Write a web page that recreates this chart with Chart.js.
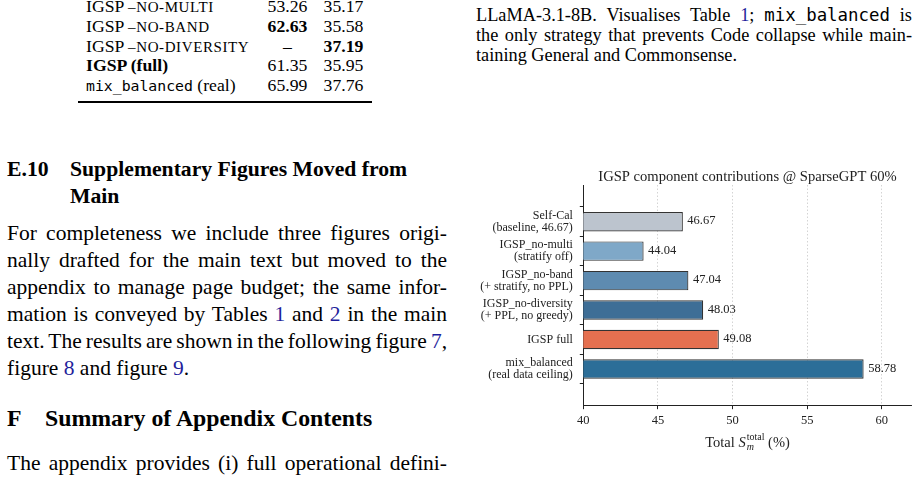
<!DOCTYPE html>
<html>
<head>
<meta charset="utf-8">
<script src="https://cdn.jsdelivr.net/npm/chart.js@4.4.1/dist/chart.umd.min.js"></script>
<style>
html,body{margin:0;padding:0;background:#fff;}
body{position:relative;width:923px;height:477px;overflow:hidden;font-family:"Liberation Serif","Times New Roman",serif;color:#000;}
.ln{position:absolute;white-space:nowrap;line-height:1.2;}
.bm{display:inline-block;width:0;height:0;vertical-align:baseline;}
.body{font-size:21.5px;}
.h2{font-size:21.7px;font-weight:bold;}
.h1{font-size:23.8px;font-weight:bold;}
.cap{font-size:18.3px;}
.tab{font-size:17.7px;}
.sc{font-size:15px;letter-spacing:0.6px;}
.tt{font-family:"DejaVu Sans Mono",monospace;}
.cap .tt{font-size:17.4px;}
.tab .tt{font-size:14.8px;}
.lk{color:#1f1f9c;}
#rule{position:absolute;left:78px;top:100.8px;width:294px;height:1.8px;background:#000;}
#chartBox{position:absolute;left:460px;top:160px;width:463px;height:300px;}
</style>
</head>
<body>
<div id="rule"></div>
<div id="chartBox"><canvas id="c" width="463" height="300"></canvas></div>
<script>
// ---------------- chart data ----------------
const chartTitle = "IGSP component contributions @ SparseGPT 60%";
const categories = [
  ["Self-Cal", "(baseline, 46.67)"],
  ["IGSP_no-multi", "(stratify off)"],
  ["IGSP_no-band", "(+ stratify, no PPL)"],
  ["IGSP_no-diversity", "(+ PPL, no greedy)"],
  ["IGSP full"],
  ["mix_balanced", "(real data ceiling)"]
];
const totals = [46.67, 44.04, 47.04, 48.03, 49.08, 58.78];
const xTicks = [40, 45, 50, 55, 60];
const barColors = ["#bcc4ce", "#7fa8c8", "#5e8bb0", "#3e6e96", "#e57050", "#2c6e98"];

// ---------------- table data ----------------
const tableLabels = [
  'IGSP <span class="sc">–NO-MULTI</span>',
  'IGSP <span class="sc">–NO-BAND</span>',
  'IGSP <span class="sc">–NO-DIVERSITY</span>',
  '<b>IGSP (full)</b>',
  '<span class="tt">mix_balanced</span> (real)'
];
const tableCol1 = ["53.26", "62.63", "–", "61.35", "65.99"];
const tableCol2 = ["35.17", "35.58", "37.19", "35.95", "37.76"];
const boldCol1 = [1];
const boldCol2 = [2];

// ---------------- page text ----------------
const captionLines = [
  'LLaMA-3.1-8B. Visualises Table <span class="lk">1</span>; <span class="tt">mix_balanced</span> is',
  'the only strategy that prevents Code collapse while main-',
  'taining General and Commonsense.'
];
const bodyLines = [
  'For completeness we include three figures origi-',
  'nally drafted for the main text but moved to the',
  'appendix to manage page budget; the same infor-',
  'mation is conveyed by Tables <span class="lk">1</span> and <span class="lk">2</span> in the main',
  'text. The results are shown in the following figure <span class="lk">7</span>,',
  'figure <span class="lk">8</span> and figure <span class="lk">9</span>.'
];
const lastLine = 'The appendix provides (i) full operational defini-';

// ---------------- layout helper ----------------
function addLine(html, x, baseline, cls, opts) {
  opts = opts || {};
  const d = document.createElement('div');
  d.className = 'ln ' + cls;
  d.innerHTML = '<span class="c">' + html + '</span><span class="bm"></span>';
  d.style.left = x + 'px';
  d.style.top = '0px';
  document.body.appendChild(d);
  const c = d.querySelector('.c');
  if (opts.justify) {
    const nat = c.getBoundingClientRect().width;
    const n = (c.textContent.match(/ /g) || []).length;
    if (n) d.style.wordSpacing = ((opts.justify - nat) / n) + 'px';
  }
  if (opts.center !== undefined) {
    const w = c.getBoundingClientRect().width;
    d.style.left = (opts.center - w / 2) + 'px';
  }
  const bm = d.querySelector('.bm');
  const off = bm.getBoundingClientRect().top - d.getBoundingClientRect().top;
  d.style.top = (baseline - off) + 'px';
  return d;
}

// table
tableLabels.forEach((lab, i) => {
  const b = 12 + i * 19.8;
  addLine(lab, 86, b, 'tab');
  const v1 = boldCol1.includes(i) ? '<b>' + tableCol1[i] + '</b>' : tableCol1[i];
  const v2 = boldCol2.includes(i) ? '<b>' + tableCol2[i] + '</b>' : tableCol2[i];
  addLine(v1, 0, b, 'tab', {center: 287.5});
  addLine(v2, 0, b, 'tab', {center: 343.5});
});

// caption (right column)
captionLines.forEach((t, i) => {
  addLine(t, 476, 20.7 + i * 20.2, 'cap', i < 2 ? {justify: 436} : {});
});

// headings and body (left column)
addLine('E.10', 7, 176, 'h2');
addLine('Supplementary Figures Moved from', 70, 176, 'h2');
addLine('Main', 70, 202.7, 'h2');
bodyLines.forEach((t, i) => {
  addLine(t, 7, 240 + i * 27, 'body', i < 5 ? {justify: 440} : {});
});
addLine('F', 7, 426, 'h1');
addLine('Summary of Appendix Contents', 45, 426, 'h1');
addLine(lastLine, 7, 470, 'body', {justify: 440});

// ---------------- chart ----------------
const serif = '"Liberation Serif", "Times New Roman", serif';

const valueLabelPlugin = {
  id: 'valueLabels',
  afterDatasetsDraw(chart) {
    const ctx = chart.ctx;
    const meta = chart.getDatasetMeta(0);
    ctx.save();
    ctx.font = '12.5px ' + serif;
    ctx.fillStyle = '#222';
    ctx.textAlign = 'left';
    ctx.textBaseline = 'middle';
    meta.data.forEach((el, i) => {
      ctx.fillText(totals[i].toFixed(2), el.x + 4.5, el.y - 0.5);
    });
    ctx.restore();
  }
};

const axisTextPlugin = {
  id: 'axisText',
  afterDraw(chart) {
    const ctx = chart.ctx;
    const a = chart.chartArea;
    const cx = (a.left + a.right) / 2;
    ctx.save();
    ctx.fillStyle = '#222';
    ctx.textBaseline = 'alphabetic';
    ctx.textAlign = 'center';
    ctx.font = '14.6px ' + serif;
    ctx.fillText(chartTitle, cx, a.top - 4);

    // x label: Total S_m^total (%)
    const y = a.bottom + 41;
    const big = '14.5px ' + serif, bigIt = 'italic 14.5px ' + serif;
    const sm = '10px ' + serif, smIt = 'italic 10px ' + serif;
    ctx.textAlign = 'left';
    ctx.font = big; const w1 = ctx.measureText('Total ').width;
    ctx.font = bigIt; const wS = ctx.measureText('S').width;
    ctx.font = sm; const wSup = ctx.measureText('total').width;
    ctx.font = smIt; const wSub = ctx.measureText('m').width;
    ctx.font = big; const w3 = ctx.measureText(' (%)').width;
    const wBlock = Math.max(wSup, wSub);
    const total = w1 + wS + 1 + wBlock + w3;
    let x = cx - total / 2;
    ctx.font = big; ctx.fillText('Total ', x, y); x += w1;
    ctx.font = bigIt; ctx.fillText('S', x, y); x += wS + 1;
    ctx.font = sm; ctx.fillText('total', x, y - 6.5);
    ctx.font = smIt; ctx.fillText('m', x, y + 3.5);
    x += wBlock;
    ctx.font = big; ctx.fillText(' (%)', x, y);
    ctx.restore();
  }
};

new Chart(document.getElementById('c'), {
  type: 'bar',
  data: {
    datasets: [{
      data: totals.map((v, i) => ({x: v, y: i})),
      backgroundColor: barColors,
      borderColor: '#333',
      borderWidth: 1.2,
      borderSkipped: false,
      barPercentage: 0.825,
      categoryPercentage: 0.8
    }]
  },
  options: {
    indexAxis: 'y',
    responsive: false,
    animation: false,
    events: [],
    layout: {padding: {top: 25, right: 11.3, left: 0, bottom: 0}},
    plugins: {legend: {display: false}, tooltip: {enabled: false}, title: {display: false}},
    scales: {
      x: {
        type: 'linear',
        position: 'bottom',
        min: 40,
        max: 62,
        afterBuildTicks: s => { s.ticks = xTicks.map(v => ({value: v})); },
        afterFit: s => { s.height = 54.3; },
        ticks: {color: '#222', font: {family: serif, size: 12.5}, padding: 4, maxRotation: 0},
        grid: {
          color: c => (c.tick && c.tick.value === 40) ? 'rgba(0,0,0,0)' : '#cfcfcf',
          lineWidth: 0.9,
          drawTicks: true,
          tickLength: 3.5,
          tickColor: '#222',
          tickWidth: 1
        },
        border: {display: true, color: '#222', width: 1, dash: [1.5, 2]}
      },
      y: {
        type: 'linear',
        position: 'left',
        reverse: true,
        min: -0.62,
        max: 5.62,
        afterBuildTicks: s => { s.ticks = categories.map((_, i) => ({value: i})); },
        afterFit: s => { s.width = 123.3; },
        ticks: {
          color: '#222',
          font: {family: serif, size: 12, lineHeight: 1.0},
          padding: 7,
          callback: v => categories[v]
        },
        grid: {drawOnChartArea: false, drawTicks: true, tickLength: 3.5, tickColor: '#222', tickWidth: 1},
        border: {display: true, color: '#222', width: 1}
      }
    }
  },
  plugins: [valueLabelPlugin, axisTextPlugin]
});
</script>
</body>
</html>
